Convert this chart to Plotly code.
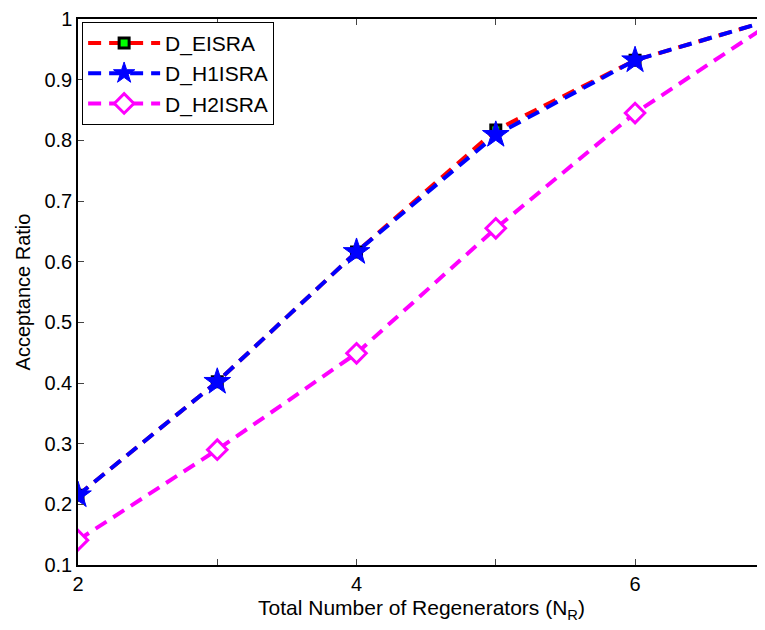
import plotly.graph_objects as go

x_vals = [2, 3, 4, 5, 6, 7]
d_eisra = [0.215, 0.402, 0.616, 0.817, 0.932, 1.0]
d_h1isra = [0.215, 0.402, 0.616, 0.809, 0.932, 1.0]
d_h2isra = [0.141, 0.290, 0.449, 0.655, 0.845, 0.997]

x_tickvals = [2, 3, 4, 5, 6]
x_ticktext = ["2", "", "4", "", "6"]
y_tickvals = [0.1, 0.2, 0.3, 0.4, 0.5, 0.6, 0.7, 0.8, 0.9, 1.0]
y_ticktext = ["0.1", "0.2", "0.3", "0.4", "0.5", "0.6", "0.7", "0.8", "0.9", "1"]

FONT = "Arial, Liberation Sans, sans-serif"
DASH = "13px,8px"

fig = go.Figure()
fig.add_trace(go.Scatter(
    x=x_vals, y=d_eisra, name="D_EISRA", mode="lines+markers",
    line=dict(color="#FF0000", width=4, dash=DASH),
    marker=dict(symbol="square", size=10, color="#00FF00",
                line=dict(color="black", width=3)),
))
fig.add_trace(go.Scatter(
    x=x_vals, y=d_h1isra, name="D_H1ISRA", mode="lines+markers",
    line=dict(color="#0000FF", width=4, dash=DASH),
    marker=dict(symbol="star", size=20, color="#0000FF",
                line=dict(color="#0000FF", width=1)),
))
fig.add_trace(go.Scatter(
    x=x_vals, y=d_h2isra, name="D_H2ISRA", mode="lines+markers",
    line=dict(color="#FF00FF", width=4, dash=DASH),
    marker=dict(symbol="diamond", size=15, color="white",
                line=dict(color="#FF00FF", width=3)),
))

# page body has an 8px default margin, so the figure is shrunk and shifted
fig.update_layout(
    width=757, height=622,
    margin=dict(l=70, r=0, t=11, b=65, autoexpand=False),
    paper_bgcolor="white", plot_bgcolor="white",
    font=dict(family=FONT, size=20, color="black"),
    showlegend=True,
    legend=dict(
        x=0.006, y=0.995, xanchor="left", yanchor="top",
        bgcolor="white", bordercolor="black", borderwidth=1,
        font=dict(family=FONT, size=21, color="black"),
        itemwidth=72, tracegroupgap=0,
    ),
    xaxis=dict(
        range=[2, 6.933], tickvals=x_tickvals, ticktext=x_ticktext,
        ticks="inside", ticklen=6, tickcolor="#444", showgrid=False,
        zeroline=False, showline=True, linecolor="black", linewidth=1.5,
        mirror="ticks", automargin=False,
        title=dict(text="Total Number of Regenerators (N<sub>R</sub>)",
                   font=dict(family=FONT, size=21), standoff=7),
        tickfont=dict(family=FONT, size=20),
    ),
    yaxis=dict(
        range=[0.1, 1.0], tickvals=y_tickvals, ticktext=y_ticktext,
        ticks="inside", ticklen=6, tickcolor="#444", showgrid=False,
        zeroline=False, showline=True, linecolor="black", linewidth=1.5,
        mirror=False, automargin=False,
        title=dict(text="Acceptance Ratio", font=dict(family=FONT, size=20),
                   standoff=8),
        tickfont=dict(family=FONT, size=20),
    ),
)

fig.write_html("out.html")
